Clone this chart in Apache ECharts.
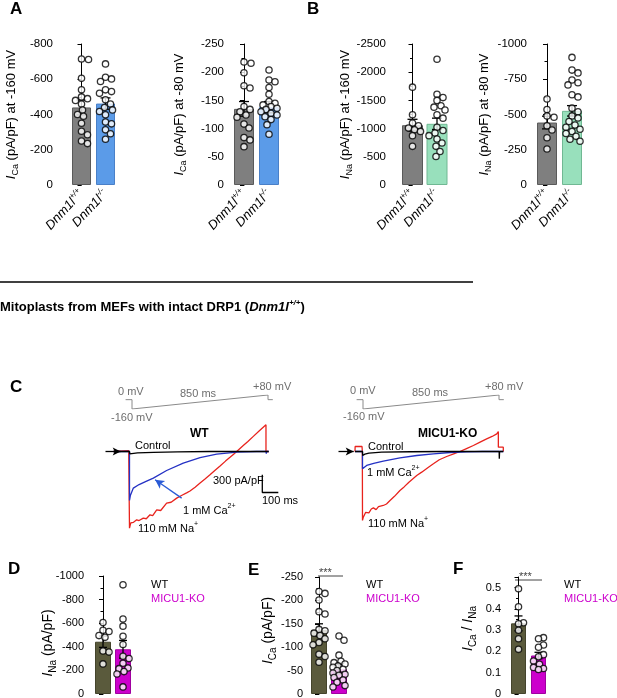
<!DOCTYPE html>
<html>
<head>
<meta charset="utf-8">
<script src="https://cdn.jsdelivr.net/npm/echarts@6.0.0/dist/echarts.min.js"></script>
<style>
html, body { margin: 0; padding: 0; background: #fff; }
#main { width: 617px; height: 698px; }
</style>
</head>
<body>
<div id="main"></div>
<script>
// ---- values ----
var dnmCats = ['+/+', '-/-'];
var micuCats = ['WT', 'MICU1-KO'];

// A: I_Ca at -160 mV and -80 mV (pA/pF)
var caNeg160Wt = [-715, -712, -605, -540, -500, -490, -480, -460, -425, -400, -390, -350, -305, -285, -250, -235];
var caNeg160Het = [-687, -611, -602, -587, -540, -530, -520, -483, -460, -440, -426, -417, -398, -357, -347, -313, -291, -260];
var caNeg160Mean = [-440, -462];
var caNeg160Sem = [42, 32];

var caNeg80Wt = [-218, -216, -199, -176, -172, -139, -134, -130, -124, -120, -108, -101, -84, -80, -68];
var caNeg80Het = [-204, -186, -183, -173, -161, -148, -145, -142, -139, -136, -134, -130, -127, -124, -121, -116, -107, -90];
var caNeg80Mean = [-135, -138];
var caNeg80Sem = [13, 10];

// B: I_Na at -160 mV and -80 mV (pA/pF)
var naNeg160Wt = [-1735, -1245, -1100, -1050, -1010, -980, -950, -875, -685];
var naNeg160Het = [-2230, -1610, -1550, -1500, -1405, -1380, -1330, -1245, -1185, -1025, -965, -920, -875, -815, -745, -685, -595, -505];
var naNeg160Mean = [-1060, -1085];
var naNeg160Sem = [105, 100];

var naNeg80Wt = [-610, -535, -490, -480, -420, -390, -335, -255];
var naNeg80Het = [-905, -815, -795, -745, -725, -710, -640, -625, -545, -520, -490, -475, -450, -425, -410, -395, -380, -365, -345, -325, -310];
var naNeg80Mean = [-443, -526];
var naNeg80Sem = [45, 37];

// D, E, F: WT vs MICU1-KO
var naWt = [-605, -540, -530, -495, -480, -365, -355, -255];
var naKo = [-925, -635, -575, -490, -420, -320, -300, -260, -220, -215, -190, -170, -60];
var naMean = [-443, -379];
var naSem = [48, 75];

var caWt = [-219, -215, -201, -176, -171, -138, -135, -130, -125, -118, -110, -105, -85, -80, -68];
var caKo = [-124, -115, -83, -70, -67, -64, -60, -57, -53, -50, -45, -42, -40, -35, -30, -25, -18, -15];
var caMean = [-137, -53];
var caSem = [13, 10];

var ratioWt = [0.495, 0.41, 0.335, 0.33, 0.30, 0.26, 0.21];
var ratioKo = [0.265, 0.26, 0.23, 0.22, 0.185, 0.175, 0.155, 0.14, 0.125, 0.12, 0.115];
var ratioMean = [0.332, 0.181];
var ratioSem = [0.035, 0.015];

// C: voltage protocol [ms, mV] and current traces [ms, pA/pF]
var rampProtocol = [[-40, 0], [0, 0], [0, -160], [850, 80], [850, 0], [880, 0]];

var wtNa = [[-100, 0], [-95, 15], [-5, 15], [-2, 0], [0, -1299], [8, -1210], [14, -1186], [25, -1200], [45, -1158], [60, -1170],
  [86, -1129], [105, -1140], [128, -1073], [145, -1085], [170, -988], [195, -1000], [232, -875], [260, -860], [295, -790],
  [325, -745], [357, -700], [378, -670], [410, -605], [441, -535], [470, -470], [503, -395], [535, -318], [566, -245],
  [600, -163], [630, -95], [649, -50], [670, 0], [711, 100], [740, 170], [774, 256], [810, 346], [853, 452], [853, 0], [870, 0]];
var wtCa = [[-100, 0], [0, 0], [0, -830], [6, -740], [24, -620], [60, -560], [100, -510], [149, -451], [232, -322], [336, -197],
  [441, -105], [545, -44], [670, -11], [795, 0], [853, 0], [855, -35], [857, 0], [870, 0]];
var wtCtrl = [[-100, 0], [0, 0], [2, -40], [50, -25], [150, -15], [300, -8], [500, 0], [870, 0]];

var koNa = [[-47, 0], [-46, 85], [-3, 85], [-1, 0], [0, -1169], [5, -1113], [12, -1140], [20, -1030], [26, -1000], [40, -1040],
  [55, -975], [68, -955], [85, -985], [100, -935], [130, -915], [150, -890], [172, -831], [200, -760], [234, -661], [260, -600],
  [290, -520], [339, -407], [370, -350], [410, -270], [443, -209], [480, -140], [526, -85], [570, -40], [609, 0], [650, 50],
  [693, 102], [735, 160], [776, 215], [810, 255], [839, 299], [849, 339], [849, 73], [880, 73], [880, 0]];
var koCa = [[-47, 0], [0, 0], [0, -294], [8, -265], [26, -237], [70, -200], [130, -164], [234, -107], [339, -68], [443, -40],
  [547, -17], [651, -6], [750, 0], [880, 0]];
var koCtrl = [[-47, 0], [0, 0], [1, -68], [15, -45], [40, -28], [120, -12], [300, -4], [500, 0], [854, 0], [855, -124], [857, 0], [880, 0]];

var scaleBarMs = 100;
var scaleBarCurrent = 300;

// ---- layout ----
var FONT = '"Liberation Sans", Arial, sans-serif';
var OLIVE = '#5a5a3c', MAGENTA = '#cc00cc';

var panels = [
  { cats: dnmCats, groups: [caNeg160Wt, caNeg160Het], mean: caNeg160Mean, sem: caNeg160Sem,
    axisX: 56, c1: 81.5, c2: 105.5, top: 44, bottom: 185, bw: 19, min: -800, max: 0, interval: 200, inverse: true,
    colors: ['#7f7f7f', '#5b9be8'], borders: ['#5a5a5a', '#4a80c8'], name: ['Ca', ' (pA/pF) at -160 mV'], nameGap: 36, labels: true },
  { cats: dnmCats, groups: [caNeg80Wt, caNeg80Het], mean: caNeg80Mean, sem: caNeg80Sem,
    axisX: 227, c1: 244, c2: 269, bw: 20, top: 44, bottom: 185, min: -250, max: 0, interval: 50, inverse: true,
    colors: ['#7f7f7f', '#5b9be8'], borders: ['#5a5a5a', '#4a80c8'], name: ['Ca', ' (pA/pF) at -80 mV'], nameGap: 39, labels: true },
  { cats: dnmCats, groups: [naNeg160Wt, naNeg160Het], mean: naNeg160Mean, sem: naNeg160Sem,
    axisX: 389, c1: 412.5, c2: 437, bw: 21, top: 44, bottom: 185, min: -2500, max: 0, interval: 500, inverse: true,
    colors: ['#7f7f7f', '#98e0bc'], borders: ['#5a5a5a', '#70b893'], name: ['Na', ' (pA/pF) at -160 mV'], nameGap: 35, labels: true },
  { cats: dnmCats, groups: [naNeg80Wt, naNeg80Het], mean: naNeg80Mean, sem: naNeg80Sem,
    axisX: 530, c1: 547, c2: 572, bw: 20, top: 44, bottom: 185, min: -1000, max: 0, interval: 250, inverse: true,
    colors: ['#7f7f7f', '#98e0bc'], borders: ['#5a5a5a', '#70b893'], name: ['Na', ' (pA/pF) at -80 mV'], nameGap: 37, labels: true },
  { cats: micuCats, groups: [naWt, naKo], mean: naMean, sem: naSem,
    axisX: 87, c1: 103, c2: 123, bw: 16, top: 576, bottom: 694, min: -1000, max: 0, interval: 200, inverse: true,
    colors: [OLIVE, MAGENTA], borders: ['#44442c', '#a000a0'], name: ['Na', ' (pA/pF)'], nameGap: 29, namePad: [0, 16, 0, 0], labels: false },
  { cats: micuCats, groups: [caWt, caKo], mean: caMean, sem: caSem,
    axisX: 306, c1: 319, c2: 339, bw: 16, top: 577, bottom: 694, min: -250, max: 0, interval: 50, inverse: true,
    colors: [OLIVE, MAGENTA], borders: ['#44442c', '#a000a0'], name: ['Ca', ' (pA/pF)'], nameGap: 28, namePad: [0, 0, 0, 10], labels: false },
  { cats: micuCats, groups: [ratioWt, ratioKo], mean: ratioMean, sem: ratioSem,
    axisX: 504, c1: 518.5, c2: 538.5, bw: 15, top: 577, bottom: 694, min: 0, max: 0.55, interval: 0.1, inverse: false,
    colors: [OLIVE, MAGENTA], borders: ['#44442c', '#a000a0'], ratioName: true, nameGap: 26, namePad: [0, 0, 0, 14], labels: false }
];

// place dots side by side where they would overlap (simple beeswarm)
function swarm(vals, pxPerUnit, dot, maxOff) {
  var order = vals.map(function (v, i) { return i; }).sort(function (a, b) { return vals[a] - vals[b]; });
  var placed = [], offs = [];
  order.forEach(function (i) {
    var y = vals[i] * pxPerUnit, best = 0, bestGap = -1;
    for (var k = 0; k <= maxOff * 2; k++) {
      var cand = (k % 2 ? 1 : -1) * Math.ceil(k / 2);
      var gap = Infinity;
      placed.forEach(function (p) {
        var d = Math.sqrt((p[0] - cand) * (p[0] - cand) + (p[1] - y) * (p[1] - y));
        if (d < gap) gap = d;
      });
      if (gap >= dot) { best = cand; bestGap = gap; break; }
      if (gap > bestGap) { bestGap = gap; best = cand; }
    }
    placed.push([best, y]);
    offs[i] = best;
  });
  return offs;
}

function renderErr(params, api) {
  var x = api.value(0), m = api.value(1), s = api.value(2), w = api.value(3);
  var a = api.coord([x, m - s]), b = api.coord([x, m + s]);
  var st = { stroke: '#000', lineWidth: 1.3 };
  return { type: 'group', children: [
    { type: 'line', shape: { x1: a[0], y1: a[1], x2: b[0], y2: b[1] }, style: st },
    { type: 'line', shape: { x1: a[0] - w, y1: a[1], x2: a[0] + w, y2: a[1] }, style: st },
    { type: 'line', shape: { x1: b[0] - w, y1: b[1], x2: b[0] + w, y2: b[1] }, style: st }
  ] };
}

function richName(size) {
  return {
    i: { fontFamily: FONT, fontSize: size, fontStyle: 'italic', color: '#000', lineHeight: size + 5 },
    sub: { fontFamily: FONT, fontSize: size - 4, color: '#000', lineHeight: size - 3, verticalAlign: 'bottom' },
    n: { fontFamily: FONT, fontSize: size, color: '#000', lineHeight: size + 5 }
  };
}

var grids = [], xAxes = [], yAxes = [], series = [];

panels.forEach(function (p) {
  var gi = grids.length;
  var step = p.c2 - p.c1;
  var left = p.c1 - step / 2;
  grids.push({ left: left, top: p.top, width: step * 2, height: p.bottom - p.top, outerBoundsMode: 'none' });
  var xi = xAxes.length;
  xAxes.push({
    gridIndex: gi, type: 'category', data: p.cats,
    axisLine: { show: false }, axisTick: { show: false },
    axisLabel: p.labels ? {
      show: true, interval: 0, rotate: 47, margin: 7,
      formatter: function (v) { return '{i|Dnm1l}{s|' + v + '}'; },
      rich: {
        i: { fontFamily: FONT, fontSize: 13, fontStyle: 'italic', color: '#000', lineHeight: 16 },
        s: { fontFamily: FONT, fontSize: 8, fontStyle: 'italic', color: '#000', lineHeight: 9, verticalAlign: 'top' }
      }
    } : { show: false }
  });
  xAxes.push({ gridIndex: gi, type: 'value', min: -0.5, max: 1.5, show: false });
  var yi = yAxes.length;
  var name = p.ratioName
    ? '{i|I}{sub|Ca}{n| / }{i|I}{sub|Na}'
    : '{i|I}{sub|' + p.name[0] + '}{n|' + p.name[1] + '}';
  yAxes.push({
    gridIndex: gi, type: 'value', min: p.min, max: p.max, interval: p.interval, inverse: p.inverse,
    offset: left - p.axisX,
    axisLine: { show: true, lineStyle: { color: '#000', width: 1 } },
    axisTick: { show: true, length: 4, lineStyle: { color: '#000', width: 1 } },
    minorTick: { show: true, splitNumber: 2, length: 2.5, lineStyle: { color: '#000', width: 1 } },
    splitLine: { show: false }, minorSplitLine: { show: false },
    axisLabel: { color: '#000', fontFamily: FONT, fontSize: p.labels ? 11.5 : 11, margin: 3, showMaxLabel: !p.ratioName,
      formatter: function (v) { return String(v); } },
    name: name, nameLocation: 'middle', nameRotate: 90, nameGap: p.nameGap, nameMoveOverlap: false,
    nameTextStyle: { rich: richName(p.labels ? 13 : 14), padding: p.namePad || 0 }
  });

  var pxPerUnit = (p.bottom - p.top) / (p.max - p.min);
  series.push({
    type: 'bar', xAxisIndex: xi, yAxisIndex: yi, barWidth: p.bw, silent: true,
    data: p.mean.map(function (m, i) {
      return { value: m, itemStyle: { color: p.colors[i], borderColor: p.borders[i], borderWidth: 1 } };
    })
  });
  series.push({
    type: 'custom', xAxisIndex: xi + 1, yAxisIndex: yi, renderItem: renderErr, z: 3,
    data: p.mean.map(function (m, i) { return [i, m, p.sem[i], p.bw > 17 ? 5 : 4]; })
  });
  p.groups.forEach(function (vals, i) {
    var offs = swarm(vals, pxPerUnit, 6.2, Math.floor(p.bw / 2) - 2);
    series.push({
      type: 'scatter', xAxisIndex: xi + 1, yAxisIndex: yi, z: 4, symbol: 'circle', symbolSize: 6.3,
      itemStyle: { color: '#fff', borderColor: '#000', borderWidth: 1.3 },
      data: vals.map(function (v, k) { return [i + offs[k] / step, v]; })
    });
  });
});

// ---- panel C: protocol and current traces ----
var PX_MS = 0.16, PX_I = 0.059;
function addGrid(g, xr, yr) {
  grids.push(g);
  xAxes.push({ gridIndex: grids.length - 1, type: 'value', min: xr[0], max: xr[1], show: false });
  yAxes.push({ gridIndex: grids.length - 1, type: 'value', min: yr[0], max: yr[1], show: false });
  return { x: xAxes.length - 1, y: yAxes.length - 1 };
}
function traceGrid(t0x, zeroY) {
  return addGrid({ left: t0x - 150 * PX_MS, width: 1150 * PX_MS, top: zeroY - 600 * PX_I, height: 2100 * PX_I, outerBoundsMode: 'none' },
    [-150, 1000], [-1500, 600]);
}
function protoGrid(stepX) {
  return addGrid({ left: stepX - 40 * PX_MS, width: 920 * PX_MS, top: 395, height: 14, outerBoundsMode: 'none' },
    [-40, 880], [-160, 80]);
}
function lineS(ax, data, color, extra) {
  var s = { type: 'line', xAxisIndex: ax.x, yAxisIndex: ax.y, data: data, showSymbol: false, silent: true,
    lineStyle: { color: color, width: 1.3 } };
  for (var k in extra) s[k] = extra[k];
  return s;
}
function arrowLine(from, to, color, size) {
  return { silent: true, symbol: ['none', 'arrow'], symbolSize: size, label: { show: false },
    lineStyle: { color: color, width: 1.3, type: 'solid' }, data: [[{ coord: from }, { coord: to }]] };
}
var wtProto = protoGrid(132), koProto = protoGrid(363);
var wtAx = traceGrid(129.5, 451.5), koAx = traceGrid(362.5, 451.5);

series.push(lineS(wtProto, rampProtocol, '#8a8a8a', { lineStyle: { color: '#8a8a8a', width: 1 } }));
series.push(lineS(koProto, rampProtocol, '#8a8a8a', { lineStyle: { color: '#8a8a8a', width: 1 } }));

series.push(lineS(wtAx, wtNa, '#e8231d', { z: 3 }));
series.push(lineS(wtAx, wtCa, '#2431c4', { z: 4, markLine: arrowLine([326, -790], [160, -480], '#2a5bd6', [7, 9]) }));
series.push(lineS(wtAx, wtCtrl, '#000', { z: 5, markLine: arrowLine([-150, 0], [-55, 0], '#000', [6, 8]) }));
series.push(lineS(wtAx, [[830, -395], [830, -395 - scaleBarCurrent], [830 + scaleBarMs, -395 - scaleBarCurrent]], '#000', { z: 5 }));
series.push(lineS(koAx, koNa, '#e8231d', { z: 3 }));
series.push(lineS(koAx, koCa, '#2431c4', { z: 4 }));
series.push(lineS(koAx, koCtrl, '#000', { z: 5, markLine: arrowLine([-150, 0], [-55, 0], '#000', [6, 8]) }));

// ---- text annotations ----
function txt(x, y, text, opt) {
  opt = opt || {};
  return { type: 'text', left: x, top: y, silent: true, z: 100,
    style: { text: text, fill: opt.color || '#000', fontFamily: FONT, fontSize: opt.size || 11,
      fontWeight: opt.bold ? 'bold' : 'normal', rich: opt.rich } };
}
function richSup(size, color) {
  return {
    n: { fontFamily: FONT, fontSize: size, color: color, lineHeight: size + 4 },
    s: { fontFamily: FONT, fontSize: size - 4, color: color, lineHeight: size - 3, verticalAlign: 'top' }
  };
}
var GRAY = '#6e6e6e';
var graphics = [
  txt(10, 1, 'A', { size: 17, bold: true }),
  txt(307, 1, 'B', { size: 17, bold: true }),
  { type: 'line', silent: true, shape: { x1: 0, y1: 282, x2: 473, y2: 282 }, style: { stroke: '#000', lineWidth: 1.3 } },
  txt(0, 299, '{b|Mitoplasts from MEFs with intact DRP1 (}{bi|Dnm1l}{bs|+/+}{b|)}', { rich: {
    b: { fontFamily: FONT, fontSize: 13, fontWeight: 'bold', color: '#000', lineHeight: 17 },
    bi: { fontFamily: FONT, fontSize: 13, fontWeight: 'bold', fontStyle: 'italic', color: '#000', lineHeight: 17 },
    bs: { fontFamily: FONT, fontSize: 8, fontWeight: 'bold', fontStyle: 'italic', color: '#000', lineHeight: 9, verticalAlign: 'top' }
  } }),
  txt(10, 379, 'C', { size: 17, bold: true }),
  txt(118, 386, '0 mV', { color: GRAY }), txt(180, 388, '850 ms', { color: GRAY }),
  txt(253, 381, '+80 mV', { color: GRAY }), txt(111, 412, '-160 mV', { color: GRAY }),
  txt(350, 385, '0 mV', { color: GRAY }), txt(412, 387, '850 ms', { color: GRAY }),
  txt(485, 381, '+80 mV', { color: GRAY }), txt(343, 411, '-160 mV', { color: GRAY }),
  txt(190, 428, 'WT', { size: 12, bold: true }),
  txt(418, 428, 'MICU1-KO', { size: 12, bold: true }),
  txt(135, 440, 'Control'), txt(368, 441, 'Control'),
  txt(213, 475, '300 pA/pF'), txt(262, 495, '100 ms'),
  txt(183, 503, '{n|1 mM Ca}{s|2+}', { rich: richSup(11, '#2431c4') }),
  txt(367, 465, '{n|1 mM Ca}{s|2+}', { rich: richSup(11, '#2431c4') }),
  txt(138, 521, '{n|110 mM Na}{s|+}', { rich: richSup(11, '#e8231d') }),
  txt(368, 516, '{n|110 mM Na}{s|+}', { rich: richSup(11, '#e8231d') }),
  txt(8, 561, 'D', { size: 17, bold: true }),
  txt(248, 562, 'E', { size: 17, bold: true }),
  txt(453, 561, 'F', { size: 17, bold: true }),
  txt(151, 579, 'WT', { size: 11 }), txt(151, 593, 'MICU1-KO', { size: 11, color: MAGENTA }),
  txt(366, 579, 'WT', { size: 11 }), txt(366, 593, 'MICU1-KO', { size: 11, color: MAGENTA }),
  txt(564, 579, 'WT', { size: 11 }), txt(564, 593, 'MICU1-KO', { size: 11, color: MAGENTA }),
  txt(319, 567, '***', { size: 11, color: '#444' }),
  { type: 'line', silent: true, shape: { x1: 318, y1: 576, x2: 343, y2: 576 }, style: { stroke: '#444', lineWidth: 1 } },
  txt(519, 571, '***', { size: 11, color: '#444' }),
  { type: 'line', silent: true, shape: { x1: 515, y1: 580, x2: 542, y2: 580 }, style: { stroke: '#444', lineWidth: 1 } }
];

var chart = echarts.init(document.getElementById('main'), null, { renderer: 'canvas' });
chart.setOption({
  animation: false,
  backgroundColor: '#fff',
  textStyle: { fontFamily: FONT },
  grid: grids,
  xAxis: xAxes,
  yAxis: yAxes,
  series: series,
  graphic: graphics
});
</script>
</body>
</html>
